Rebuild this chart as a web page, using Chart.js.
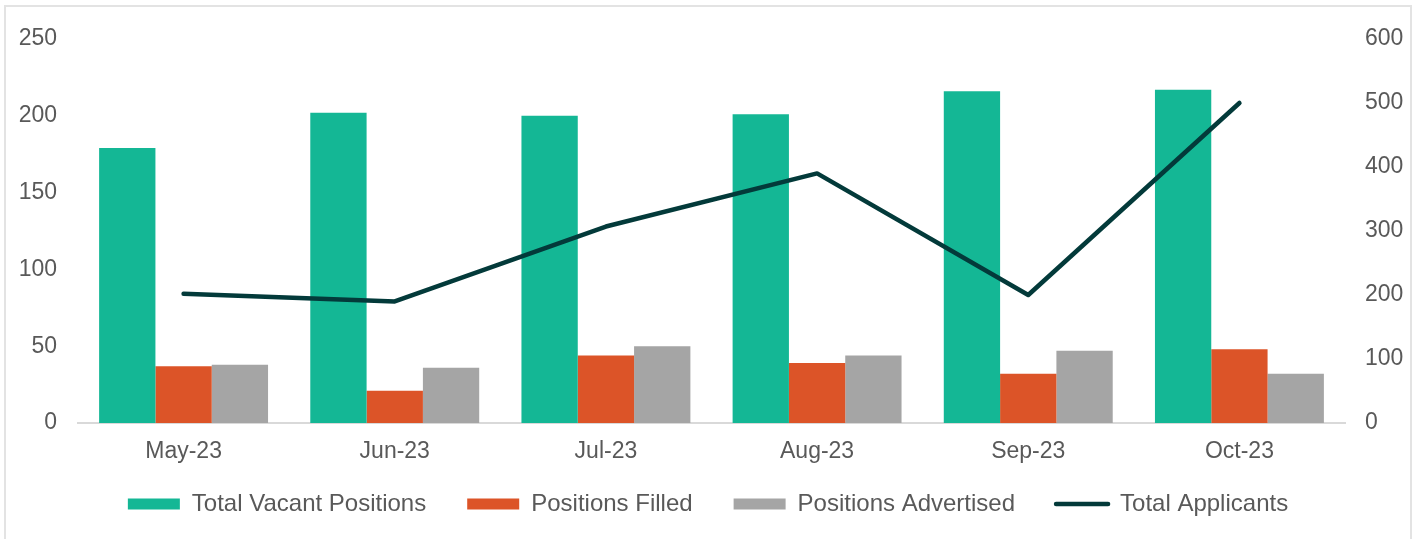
<!DOCTYPE html>
<html>
<head>
<meta charset="utf-8">
<script src="https://cdn.jsdelivr.net/npm/chart.js@4"></script>
<style>
  html, body { margin: 0; padding: 0; background: #fff; }
  #frame { position: absolute; left: 4px; top: 5px; width: 1408px; height: 560px; border: 2px solid #e3e3e3; box-sizing: border-box; }
  #myChart { position: absolute; left: 0; top: 0; }
</style>
</head>
<body>
<div id="frame"></div>
<canvas id="myChart" width="1416" height="539"></canvas>
<script>
const months = ['May-23', 'Jun-23', 'Jul-23', 'Aug-23', 'Sep-23', 'Oct-23'];
const totalVacant = [179, 202, 200, 201, 216, 217];
const positionsFilled = [37, 21, 44, 39, 32, 48];
const positionsAdvertised = [38, 36, 50, 44, 47, 32];
const totalApplicants = [202, 190, 307, 390, 200, 500];

const textColor = '#595959';

Chart.defaults.font.family = '"Liberation Sans", Arial, sans-serif';
Chart.defaults.font.size = 23;
Chart.defaults.color = textColor;

// x axis is squeezed so the legend sits close; give the tick labels their room back before drawing
const unclipXLabels = {
    id: 'unclipXLabels',
    afterLayout(chart) {
        chart.scales.x.bottom = chart.scales.x.top + 60;
    }
};

const ctx = document.getElementById('myChart');

new Chart(ctx, {
    type: 'bar',
    data: {
        labels: months,
        datasets: [
            {
                label: 'Total Vacant Positions',
                data: totalVacant,
                backgroundColor: '#14B795',
                yAxisID: 'y',
                order: 1
            }, {
                label: 'Positions Filled',
                data: positionsFilled,
                backgroundColor: '#DC5428',
                yAxisID: 'y',
                order: 1
            }, {
                label: 'Positions Advertised',
                data: positionsAdvertised,
                backgroundColor: '#A5A5A5',
                yAxisID: 'y',
                order: 1
            }, {
                type: 'line',
                label: 'Total Applicants',
                data: totalApplicants,
                borderColor: '#033A3A',
                backgroundColor: '#033A3A',
                borderWidth: 4.5,
                pointRadius: 0,
                borderCapStyle: 'round',
                borderJoinStyle: 'round',
                yAxisID: 'y1',
                order: 0
            }
        ]
    },
    options: {
        responsive: false,
        animation: false,
        layout: {
            padding: { left: 0, right: 0, top: 39, bottom: 13 }
        },
        datasets: {
            bar: { barPercentage: 1, categoryPercentage: 0.8 }
        },
        plugins: {
            tooltip: { enabled: false },
            legend: {
                position: 'bottom',
                labels: {
                    usePointStyle: true,
                    pointStyleWidth: 52,
                    boxHeight: 11,
                    padding: 41,
                    color: textColor,
                    font: { size: 24 },
                    generateLabels: (chart) => chart.data.datasets.map((ds, i) => ({
                        text: ds.label,
                        fillStyle: ds.type === 'line' ? 'rgba(0,0,0,0)' : ds.backgroundColor,
                        strokeStyle: ds.type === 'line' ? ds.borderColor : ds.backgroundColor,
                        lineWidth: ds.type === 'line' ? 4.5 : 0,
                        lineCap: 'round',
                        pointStyle: ds.type === 'line' ? 'line' : 'rect',
                        fontColor: textColor,
                        datasetIndex: i,
                        hidden: false
                    }))
                }
            }
        },
        scales: {
            x: {
                grid: { display: false, drawTicks: false },
                border: { display: true, color: '#d9d9d9', width: 2 },
                ticks: { padding: 15, color: textColor },
                afterFit: (scale) => { scale.height = 28; }
            },
            y: {
                position: 'left',
                min: 0,
                max: 250,
                ticks: { stepSize: 50, padding: 21, color: textColor },
                grid: { display: false, drawTicks: false },
                border: { display: false },
                afterFit: (scale) => { scale.width = 78; }
            },
            y1: {
                position: 'right',
                min: 0,
                max: 600,
                ticks: { stepSize: 100, padding: 20, color: textColor },
                grid: { display: false, drawTicks: false },
                border: { display: false },
                afterFit: (scale) => { scale.width = 71; }
            }
        }
    },
    plugins: [unclipXLabels]
});
</script>
</body>
</html>
